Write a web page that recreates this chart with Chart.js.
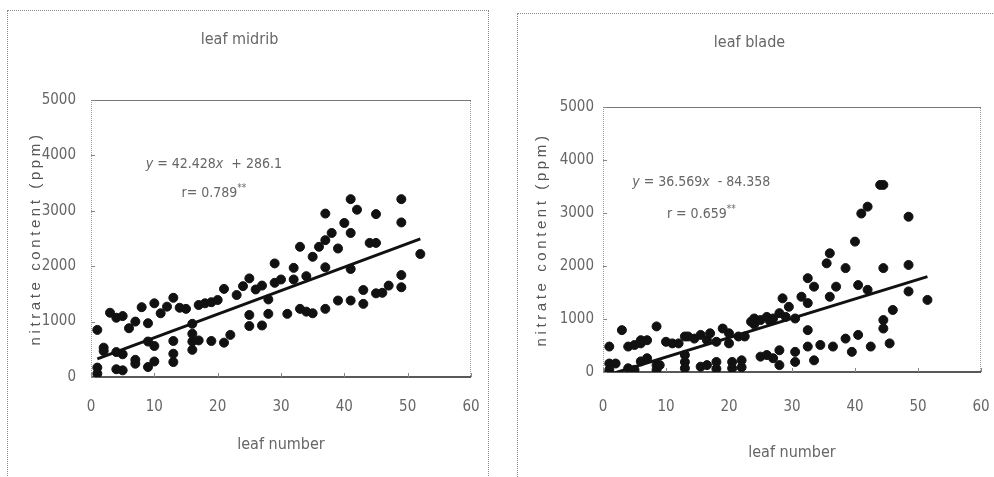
<!DOCTYPE html>
<html>
<head>
<meta charset="utf-8">
<script src="https://cdn.jsdelivr.net/npm/chart.js@4.4.1/dist/chart.umd.min.js"></script>
<style>
  html, body { margin: 0; padding: 0; background: #fff; width: 994px; height: 477px; overflow: hidden; }
  .panel { position: absolute; border: 1px dotted #8a8a8a; box-sizing: border-box; }
  #p1 { left: 7px; top: 10px; width: 482px; height: 480px; }
  #p2 { left: 517px; top: 13px; width: 490px; height: 480px; }
  .wrap { position: absolute; }
  #w1 { left: 8px; top: 11px; width: 480px; height: 466px; }
  #w2 { left: 518px; top: 14px; width: 476px; height: 463px; }
</style>
</head>
<body>
<div class="panel" id="p1"></div>
<div class="panel" id="p2"></div>
<div class="wrap" id="w1"><canvas id="c1"></canvas></div>
<div class="wrap" id="w2"><canvas id="c2"></canvas></div>
<script>
// ---------- DATA ----------
const xTickLabels = ['0', '10', '20', '30', '40', '50', '60'];
const yTickLabels = ['0', '1000', '2000', '3000', '4000', '5000'];

const midribTitle = 'leaf midrib';
const midribLeaf = [1,1,1,2,2,3,4,4,4,5,5,5,6,7,7,7,8,9,9,9,10,10,10,11,12,13,13,13,13,14,15,16,16,16,16,17,17,18,19,19,20,21,21,22,23,24,25,25,25,26,27,27,28,28,29,29,30,31,32,32,33,33,34,34,35,35,36,37,37,37,37,38,39,39,40,41,41,41,41,42,43,43,44,45,45,45,46,47,49,49,49,49,52];
const midribNitrate = [850,170,60,530,470,1160,1070,450,140,1100,410,120,880,1000,310,240,1260,970,640,180,1330,560,280,1150,1270,1430,650,420,270,1250,1230,960,780,640,490,1300,660,1330,1350,650,1390,1590,620,760,1480,1640,1780,1120,920,1580,1650,930,1400,1140,2050,1700,1760,1140,1970,1760,2350,1230,1820,1180,2170,1150,2350,2950,2470,1980,1230,2600,2320,1380,2780,3210,2600,1950,1380,3020,1570,1320,2420,2940,2420,1510,1520,1650,3210,2790,1840,1620,2220];
const midribSlope = 42.428;
const midribIntercept = 286.1;
const midribR = '0.789';

const bladeTitle = 'leaf blade';
const bladeLeaf = [1,1,1,2,3,4,4,5,5,6,6,6,7,7,8.5,8.5,8.5,9,10,11,12,13,13,13,13,13.5,14.5,15.5,15.5,16.5,16.5,17,18,18,18,19,20,20,20.5,20.5,21.5,22,22,22.5,23.5,24,24,25,25,26,26,26.5,27,27,28,28,28,28.5,29,29.5,30.5,30.5,30.5,31.5,32.5,32.5,32.5,32.5,33.5,33.5,34.5,35.5,36,36,36.5,37,38.5,38.5,39.5,40,40.5,40.5,41,42,42,42.5,44,44.5,44.5,44.5,44.5,45.5,46,48.5,48.5,48.5,51.5];
const bladeNitrate = [480,160,40,160,790,480,70,510,40,540,200,600,260,600,860,130,40,130,570,540,540,670,320,190,70,670,630,700,100,130,600,730,570,190,60,820,730,540,190,70,670,220,90,670,950,1010,900,290,980,1040,320,960,1010,260,1110,130,410,1390,1040,1230,1010,380,190,1420,1770,1300,790,480,1610,220,510,2050,2240,1420,480,1610,1960,630,380,2460,1640,700,2990,3120,1550,480,3530,3530,1960,980,820,540,1170,2930,2020,1520,1360];
const bladeSlope = 36.569;
const bladeIntercept = -84.358;
const bladeR = '0.659';

const xAxisTitle = 'leaf number';
const yAxisTitle = 'nitrate content (ppm)';

// ---------- STYLE ----------
const NARROW = "'Liberation Sans Narrow', 'DejaVu Sans Condensed', 'Liberation Sans', sans-serif";
const TEXT = '#666';

function fitLine(xs, slope, intercept) {
  const lo = Math.min(...xs), hi = Math.max(...xs);
  return [{x: lo, y: slope * lo + intercept}, {x: hi, y: slope * hi + intercept}];
}

const framePlugin = {
  id: 'frame',
  beforeDatasetsDraw(chart) {
    const {ctx, chartArea: a, scales} = chart;
    ctx.save();
    ctx.lineWidth = 1;
    ctx.strokeStyle = '#9a9a9a';
    ctx.setLineDash([1, 1]);
    ctx.beginPath();
    ctx.moveTo(a.left + 0.5, a.bottom); ctx.lineTo(a.left + 0.5, a.top + 0.5);
    ctx.lineTo(a.right - 0.5, a.top + 0.5); ctx.lineTo(a.right - 0.5, a.bottom);
    ctx.stroke();
    ctx.setLineDash([]);
    ctx.strokeStyle = '#777';
    ctx.beginPath(); ctx.moveTo(a.left, a.top + 0.5); ctx.lineTo(a.right, a.top + 0.5); ctx.stroke();
    ctx.strokeStyle = '#222';
    ctx.lineWidth = 1.5;
    ctx.beginPath(); ctx.moveTo(a.left, a.bottom); ctx.lineTo(a.right, a.bottom); ctx.stroke();
    ctx.lineWidth = 1;
    ctx.strokeStyle = '#888';
    scales.y.ticks.forEach(t => {
      const y = Math.round(scales.y.getPixelForValue(t.value)) + 0.5;
      ctx.beginPath(); ctx.moveTo(a.left, y); ctx.lineTo(a.left + 4, y); ctx.stroke();
    });
    scales.x.ticks.forEach(t => {
      const x = Math.round(scales.x.getPixelForValue(t.value)) + 0.5;
      ctx.beginPath(); ctx.moveTo(x, a.bottom); ctx.lineTo(x, a.bottom - 4); ctx.stroke();
    });
    ctx.restore();
  }
};

const textPlugin = {
  id: 'panelText',
  afterDraw(chart, args, o) {
    const {ctx, chartArea: a, scales} = chart;
    ctx.save();
    ctx.fillStyle = '#555';
    ctx.save();
    ctx.font = o.yFont;
    if ('letterSpacing' in ctx) ctx.letterSpacing = o.ySpacing;
    ctx.translate(o.yTitleX, (a.top + a.bottom) / 2);
    ctx.rotate(-Math.PI / 2);
    ctx.textAlign = 'center';
    ctx.textBaseline = 'middle';
    ctx.fillText(yAxisTitle, 0, 0);
    ctx.restore();
    ctx.fillStyle = TEXT;
    const cx = scales.x.getPixelForValue(o.eqX);
    const drawSegs = (segs, y) => {
      let total = 0;
      segs.forEach(s => { ctx.font = s.font; s.w = ctx.measureText(s.t).width; total += s.w; });
      let x = cx - total / 2;
      ctx.textAlign = 'left';
      ctx.textBaseline = 'middle';
      segs.forEach(s => { ctx.font = s.font; ctx.fillText(s.t, x, y + (s.dy || 0)); x += s.w; });
    };
    const reg = '14px ' + NARROW, it = 'italic 14px ' + NARROW, sup = '10px ' + NARROW;
    const sign = o.intercept < 0 ? '-' : '+';
    drawSegs([
      {t: 'y', font: it},
      {t: ' = ' + o.slope, font: reg},
      {t: 'x', font: it},
      {t: '  ' + sign + ' ' + Math.abs(o.intercept), font: reg}
    ], scales.y.getPixelForValue(o.eqY));
    drawSegs([
      {t: o.rPrefix + o.r, font: reg},
      {t: '**', font: sup, dy: -5}
    ], scales.y.getPixelForValue(o.rY));
    ctx.restore();
  }
};

function makeChart(id, cfg) {
  return new Chart(document.getElementById(id), {
    data: {
      datasets: [
        {
          type: 'scatter',
          data: cfg.xs.map((x, i) => ({x, y: cfg.ys[i]})),
          backgroundColor: '#111',
          borderColor: '#111',
          borderWidth: 1,
          pointRadius: 4.5,
          pointHoverRadius: 4.5
        },
        {
          type: 'line',
          data: fitLine(cfg.xs, cfg.slope, cfg.intercept),
          borderColor: '#111',
          borderWidth: 3,
          pointRadius: 0,
          fill: false
        }
      ]
    },
    options: {
      responsive: true,
      maintainAspectRatio: false,
      animation: false,
      events: [],
      layout: { padding: { left: 0, right: cfg.padRight, top: 0, bottom: 0 } },
      plugins: {
        legend: { display: false },
        tooltip: { enabled: false },
        title: {
          display: true,
          text: cfg.title,
          color: TEXT,
          font: { family: NARROW, size: 16, weight: 'normal' },
          padding: { top: 19.4, bottom: cfg.titleBottom }
        },
        panelText: cfg.text
      },
      scales: {
        x: {
          type: 'linear',
          min: 0, max: 60,
          afterFit: s => { s.height = cfg.xHeight; },
          afterBuildTicks: s => { s.ticks = xTickLabels.map(v => ({value: Number(v)})); },
          grid: { display: false, drawTicks: true, tickLength: cfg.xTickLen },
          border: { display: false },
          ticks: { color: TEXT, padding: 0, font: { family: NARROW, size: 15 }, maxRotation: 0,
                   callback: (v, i) => xTickLabels[i] },
          title: { display: true, text: xAxisTitle, color: TEXT,
                   font: { family: NARROW, size: 16 }, padding: { top: 0, bottom: cfg.xTitlePad } }
        },
        y: {
          type: 'linear',
          min: 0, max: 5000,
          afterFit: s => { s.width = cfg.yWidth; },
          afterBuildTicks: s => { s.ticks = yTickLabels.map(v => ({value: Number(v)})); },
          grid: { display: false, drawTicks: true, tickLength: cfg.yTickLen },
          border: { display: false },
          ticks: { color: TEXT, padding: 0, font: { family: NARROW, size: 15 },
                   callback: (v, i) => yTickLabels[i] }
        }
      }
    },
    plugins: [framePlugin, textPlugin]
  });
}

makeChart('c1', {
  xs: midribLeaf, ys: midribNitrate, slope: midribSlope, intercept: midribIntercept,
  title: midribTitle, titleBottom: 50.4, padRight: 17, xHeight: 100, yWidth: 83,
  xTickLen: 21.2, xTitlePad: 22.4, yTickLen: 15,
  text: { yFont: '15px "Liberation Sans", Arial, sans-serif', ySpacing: '3.6px', yTitleX: 28,
          eqX: 19.4, eqY: 3830, rY: 3320, slope: midribSlope, intercept: midribIntercept,
          rPrefix: 'r= ', r: midribR }
});

makeChart('c2', {
  xs: bladeLeaf, ys: bladeNitrate, slope: bladeSlope, intercept: bladeIntercept,
  title: bladeTitle, titleBottom: 54.4, padRight: 13, xHeight: 105, yWidth: 85,
  xTickLen: 26.2, xTitlePad: 14.4, yTickLen: 9,
  text: { yFont: '15px "Liberation Sans", Arial, sans-serif', ySpacing: '3.6px', yTitleX: 24,
          eqX: 15.6, eqY: 3575, rY: 2975, slope: bladeSlope, intercept: bladeIntercept,
          rPrefix: 'r = ', r: bladeR }
});
</script>
</body>
</html>
